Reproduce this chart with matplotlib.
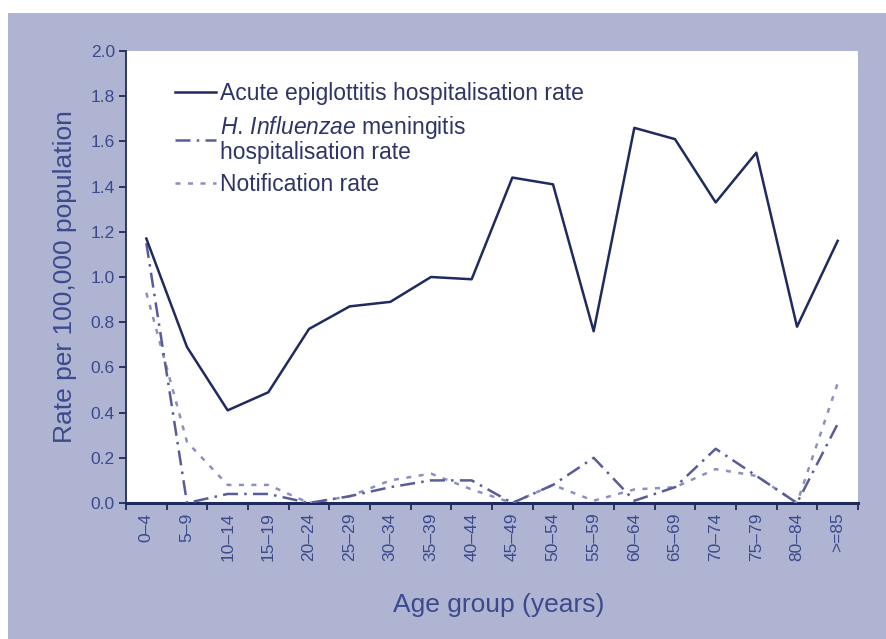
## acute epiglottitis vs H. influenzae meningitis rates by age group
import numpy as np
import matplotlib
matplotlib.use('Agg')
import matplotlib.pyplot as plt
from matplotlib.patches import Rectangle

matplotlib.rcParams.update({'font.family': 'Liberation Sans',
                            'mathtext.fontset': 'custom',
                            'mathtext.rm': 'Liberation Sans',
                            'mathtext.it': 'Liberation Sans:italic'})

########
age_groups = ['0–4', '5–9', '10–14', '15–19', '20–24', '25–29', '30–34', '35–39',
              '40–44', '45–49', '50–54', '55–59', '60–64', '65–69', '70–74',
              '75–79', '80–84', '>=85']
epiglottitis = [1.17, 0.69, 0.41, 0.49, 0.77, 0.87, 0.89, 1.00, 0.99, 1.44,
                1.41, 0.76, 1.66, 1.61, 1.33, 1.55, 0.78, 1.16]
meningitis = [1.15, 0.00, 0.04, 0.04, 0.00, 0.03, 0.07, 0.10, 0.10, 0.00,
              0.08, 0.20, 0.01, 0.07, 0.24, 0.12, 0.00, 0.35]
notification = [0.93, 0.27, 0.08, 0.08, 0.00, 0.03, 0.10, 0.13, 0.06, 0.00,
                0.08, 0.01, 0.06, 0.07, 0.15, 0.12, 0.00, 0.53]

lab_epi = 'Acute epiglottitis hospitalisation rate'
lab_men = r'$\mathit{H.\,Influenzae}$ meningitis' + '\nhospitalisation rate'
lab_not = 'Notification rate'
###

lav = '#b0b4d3'
navy = '#1f2b5e'
txt = '#3a4a8c'

fig = plt.figure(figsize=(8.87, 6.39), dpi=100, facecolor='white')
fig.patches.append(Rectangle((8/887, 0), 1, 1-13/639, transform=fig.transFigure,
                             facecolor=lav, edgecolor='none', zorder=-1))
ax = fig.add_axes([126/887, 136/639, 732/887, 452/639])
ax.set_facecolor('white')

x = np.arange(len(age_groups))
ax.plot(x, epiglottitis, color=navy, lw=1.8, label=lab_epi, zorder=5)
ax.plot(x, meningitis, color='#585c98', lw=1.8, dashes=(6, 2.5, 1, 2.5), label=lab_men, zorder=4)
ax.plot(x, notification, color='#8d8fbd', lw=1.8, dashes=(2, 3), label=lab_not, zorder=3)

ax.set_xlim(-0.5, len(age_groups)-0.5)
ax.set_ylim(0, 2.0)
ax.set_yticks(np.linspace(0, 2.0, 11))
ax.set_yticklabels(['%.1f' % v for v in np.linspace(0, 2.0, 11)])
ax.set_xticks(np.arange(-0.5, len(age_groups), 1))
ax.set_xticklabels([])
ax.set_xticks(x, age_groups, minor=True, rotation=90)
ax.tick_params(axis='x', which='major', direction='out', length=5, width=1.3, color=navy)
ax.tick_params(axis='x', which='minor', length=0, pad=7, labelsize=12.5, labelcolor=txt)
ax.tick_params(axis='y', direction='out', length=5, width=1.3, color=navy, pad=3,
               labelsize=12.5, labelcolor=txt)

for s in ['top', 'right']:
    ax.spines[s].set_visible(False)
ax.spines['left'].set_color(navy)
ax.spines['left'].set_linewidth(1.3)
ax.spines['bottom'].set_color(navy)
ax.spines['bottom'].set_linewidth(2.2)

ax.set_ylabel('Rate per 100,000 population', fontsize=19, color=txt, labelpad=10)
fig.text(0.562, 1-605/639, 'Age group (years)', fontsize=19, color=txt, ha='center', va='center')

leg = ax.legend(loc='upper left', bbox_to_anchor=(0.055, 0.952), frameon=False,
                fontsize=16.5, handlelength=1.75, handletextpad=0.2, labelspacing=0.4,
                borderaxespad=0)
for t in leg.get_texts():
    t.set_color('#2c3566')
    t.set_linespacing(1.0)

plt.savefig('out.png', dpi=100)
